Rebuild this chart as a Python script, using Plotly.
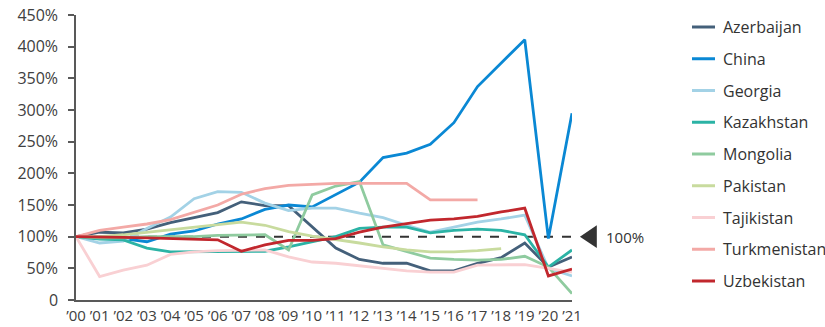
import plotly.graph_objects as go

years = list(range(22))
year_labels = ["’%02d" % y for y in range(22)]

azerbaijan = [100,107,106,112,122,130,138,155,149,149,116,82,64,58,58,46,46,58,67,90,52,68]
china = [100,97,97,92,104,109,120,128,143,150,147,166,186,225,232,246,280,337,374,411,97,295]
georgia = [100,90,93,113,131,160,171,170,153,141,145,145,137,130,118,107,115,123,128,134,50,38]
kazakhstan = [100,96,95,82,76,76,76,76,77,84,92,100,113,115,115,106,110,112,110,103,52,79]
mongolia = [100,98,98,100,100,100,102,102,103,79,166,180,187,87,76,66,64,63,64,69,52,10]
pakistan = [100,100,103,107,111,115,119,123,118,108,101,96,90,84,79,76,76,78,81,None,None,None]
tajikistan = [100,37,47,55,72,76,78,79,79,68,60,58,54,50,46,44,44,55,56,56,50,44]
turkmenistan = [100,110,115,120,127,139,150,167,176,181,183,184,184,184,184,158,158,158,None,None,None,None]
uzbekistan = [100,100,99,98,97,96,95,77,87,94,94,97,107,115,120,126,128,132,139,145,38,49]

names = ["Azerbaijan","China","Georgia","Kazakhstan","Mongolia","Pakistan","Tajikistan","Turkmenistan","Uzbekistan"]
series = [azerbaijan, china, georgia, kazakhstan, mongolia, pakistan, tajikistan, turkmenistan, uzbekistan]
colors = ["#44607A","#0A88D4","#A3D2E6","#2BB3A5","#8FCB9F","#C8DB9E","#F9D0D3","#F3A9A6","#C1272D"]

y_ticks = [0,50,100,150,200,250,300,350,400,450]
y_labels = ["0"] + ["%d%%" % v for v in y_ticks[1:]]
reference_level = 100

fig = go.Figure()

# dashed reference line (drawn first, under series)
fig.add_shape(type="line", xref="x", yref="y", x0=0, x1=21, y0=reference_level, y1=reference_level,
              line=dict(color="#333333", width=2, dash="dash"), layer="below")

for n, s, c in zip(names, series, colors):
    fig.add_trace(go.Scatter(x=years, y=s, mode="lines", name=n,
                             line=dict(color=c, width=2.8), cliponaxis=False,
                             showlegend=False, connectgaps=False))

font_family = "Open Sans, DejaVu Sans, sans-serif"

# triangle marker and label at 100%
fig.add_shape(type="path", xref="paper", yref="y",
              path="M 1.016,100 L 1.050,118 L 1.050,82 Z",
              fillcolor="#333333", line=dict(color="#333333", width=0))
fig.add_annotation(xref="paper", yref="y", x=1.064, y=reference_level, text="100%",
                   showarrow=False, xanchor="left", yanchor="middle",
                   font=dict(family=font_family, size=15, color="#333333"))

# manual legend
plot_h = 285.0
row0 = 27.0
step = 31.75
for i, (n, c) in enumerate(zip(names, colors)):
    ypx = row0 + step * i
    yp = (300 - ypx) / plot_h
    x0 = (692 - 76) / 496.0
    x1 = (715 - 76) / 496.0
    fig.add_shape(type="line", xref="paper", yref="paper", x0=x0, x1=x1, y0=yp, y1=yp,
                  line=dict(color=c, width=3))
    fig.add_annotation(xref="paper", yref="paper", x=(721 - 76) / 496.0, y=yp, text=n,
                       showarrow=False, xanchor="left", yanchor="middle",
                       font=dict(family=font_family, size=16, color="#333333"))

fig.update_layout(
    width=825, height=327,
    margin=dict(l=76, r=253, t=15, b=27),
    paper_bgcolor="white", plot_bgcolor="white",
    font=dict(family=font_family, size=16, color="#404040"),
    showlegend=False,
    xaxis=dict(range=[0, 21], tickvals=years, ticktext=year_labels, showgrid=False, zeroline=False,
               showline=True, linecolor="#595959", linewidth=1.5, ticks="", automargin=False,
               ticklabelstandoff=1,
               tickfont=dict(size=15, color="#404040"), fixedrange=True),
    yaxis=dict(range=[0, 450], tickvals=y_ticks, ticktext=y_labels, showgrid=False, zeroline=False,
               showline=True, linecolor="#595959", linewidth=1.5, ticks="outside", ticklen=6,
               tickcolor="#595959", tickwidth=1.5, ticklabelstandoff=7, automargin=False,
               tickfont=dict(size=16, color="#404040"), fixedrange=True),
)

fig.write_html("out.html")
